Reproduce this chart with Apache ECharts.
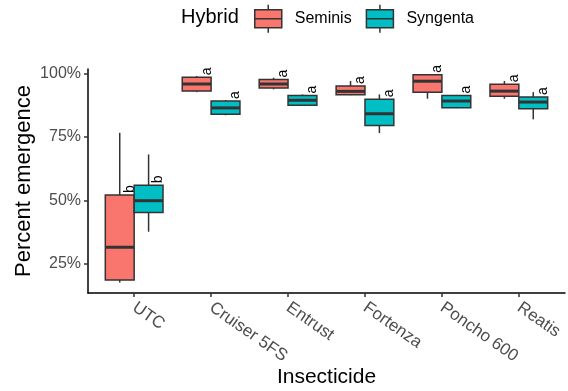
<!DOCTYPE html>
<html><head><meta charset="utf-8">
<script src="https://cdn.jsdelivr.net/npm/echarts@6/dist/echarts.min.js"></script>
<style>html,body{margin:0;padding:0;background:#fff}#c{width:568px;height:391px}</style>
</head><body><div id="c"></div>
<script>
// ---- data ----
const categories = ['UTC', 'Cruiser 5FS', 'Entrust', 'Fortenza', 'Poncho 600', 'Reatis'];
const hybrids = ['Seminis', 'Syngenta'];
// [min, Q1, median, Q3, max] per category (percent)
const seminisStats = [
  [17.7, 18.7, 31.6, 52.1, 76.6],
  [92.6, 93.0, 95.8, 98.5, 98.9],
  [93.7, 94.2, 95.8, 97.6, 98.3],
  [91.4, 91.6, 92.9, 95.0, 97.0],
  [90.0, 92.6, 96.9, 99.4, 99.5],
  [90.0, 91.0, 93.0, 95.7, 97.0]
];
const syngentaStats = [
  [37.7, 45.3, 49.9, 56.0, 68.1],
  [83.5, 83.9, 86.4, 89.1, 89.5],
  [87.2, 87.4, 89.4, 91.3, 91.7],
  [76.5, 79.5, 84.1, 89.8, 91.7],
  [86.3, 86.5, 89.1, 91.3, 91.5],
  [81.9, 86.1, 88.7, 90.7, 92.6]
];
const seminisLetters = ['b', 'a', 'a', 'a', 'a', 'a'];
const syngentaLetters = ['b', 'a', 'a', 'a', 'a', 'a'];
const yTicks = [25, 50, 75, 100];

// ---- chart ----
const FONT = '"Liberation Sans", Arial, sans-serif';
const COLORS = ['#F8766D', '#00BFC4'];
const DODGE = 0.1875, BOXW = 0.375;
const chart = echarts.init(document.getElementById('c'), null, {renderer: 'canvas'});

function makeSeries(name, stats, letters, color, offset) {
  return {
    type: 'custom',
    name: name,
    itemStyle: {color: color, borderColor: '#333', borderWidth: 1.5},
    encode: {x: 0, y: [1, 2, 3, 4, 5]},
    data: stats.map((s, i) => [i + 1].concat(s).concat([i])),
    renderItem: function (params, api) {
      const xv = api.value(0) + offset;
      const mn = api.coord([xv, api.value(1)]);
      const q1 = api.coord([xv, api.value(2)]);
      const md = api.coord([xv, api.value(3)]);
      const q3 = api.coord([xv, api.value(4)]);
      const mx = api.coord([xv, api.value(5)]);
      const w = api.size([BOXW, 0])[0];
      const x = q3[0];
      const letter = letters[api.value(6)];
      return {
        type: 'group',
        children: [
          {type: 'line', shape: {x1: x, y1: mx[1], x2: x, y2: q3[1]}, style: {stroke: '#333', lineWidth: 1.5}},
          {type: 'line', shape: {x1: x, y1: q1[1], x2: x, y2: mn[1]}, style: {stroke: '#333', lineWidth: 1.5}},
          {type: 'rect', shape: {x: x - w / 2, y: q3[1], width: w, height: q1[1] - q3[1]},
            style: {fill: color, stroke: '#333', lineWidth: 1.5}},
          {type: 'line', shape: {x1: x - w / 2, y1: md[1], x2: x + w / 2, y2: md[1]}, style: {stroke: '#333', lineWidth: 3}},
          {type: 'text', x: x + 10, y: q3[1] - 2, rotation: Math.PI / 2,
            style: {text: letter, fill: '#000', font: '14px ' + FONT, align: 'left', verticalAlign: 'middle'}}
        ]
      };
    }
  };
}

const ICON = 'path://M0,5 L27,5 L27,23 L0,23 Z M0,14 L27,14 M13.5,0 L13.5,5 M13.5,23 L13.5,28';

chart.setOption({
  animation: false,
  backgroundColor: '#fff',
  title: {
    text: 'Hybrid', left: 181, top: 7, padding: 0,
    textStyle: {fontSize: 20, fontWeight: 'normal', color: '#000', fontFamily: FONT}
  },
  legend: {
    left: 254, top: 4, padding: 0, itemWidth: 27, itemHeight: 28, itemGap: 14,
    data: hybrids.map(h => ({name: h, icon: ICON})),
    itemStyle: {borderColor: '#333', borderWidth: 1.5},
    textStyle: {fontSize: 16, color: '#000', fontFamily: FONT, padding: [0, 0, 0, 8]}
  },
  grid: {left: 88, right: 3, top: 69, bottom: 98, outerBoundsMode: 'none', containLabel: false},
  xAxis: {
    type: 'value', min: 0.4, max: 6.6,
    name: 'Insecticide', nameLocation: 'middle', nameGap: 74, nameMoveOverlap: false,
    nameTextStyle: {fontSize: 21, color: '#000', fontFamily: FONT},
    axisLine: {show: true, lineStyle: {color: '#000', width: 1.5}},
    axisTick: {show: true, length: 4, lineStyle: {color: '#333', width: 1.5}, customValues: categories.map((c, i) => i + 1)},
    axisLabel: {
      customValues: categories.map((c, i) => i + 1),
      formatter: v => categories[Math.round(v) - 1],
      rotate: -35, margin: 13, fontSize: 17, color: '#4D4D4D', fontFamily: FONT
    },
    splitLine: {show: false}
  },
  yAxis: {
    type: 'value', min: 13.6, max: 101.7,
    name: 'Percent emergence', nameLocation: 'middle', nameGap: 53, nameMoveOverlap: false,
    nameTextStyle: {fontSize: 22, color: '#000', fontFamily: FONT},
    axisLine: {show: true, lineStyle: {color: '#000', width: 1.5}},
    axisTick: {show: true, length: 4, lineStyle: {color: '#333', width: 1.5}, customValues: yTicks},
    axisLabel: {
      customValues: yTicks, formatter: v => v + '%',
      margin: 7, fontSize: 16, color: '#4D4D4D', fontFamily: FONT
    },
    splitLine: {show: false}
  },
  series: [
    makeSeries(hybrids[0], seminisStats, seminisLetters, COLORS[0], -DODGE),
    makeSeries(hybrids[1], syngentaStats, syngentaLetters, COLORS[1], DODGE)
  ]
});
</script>
</body></html>
